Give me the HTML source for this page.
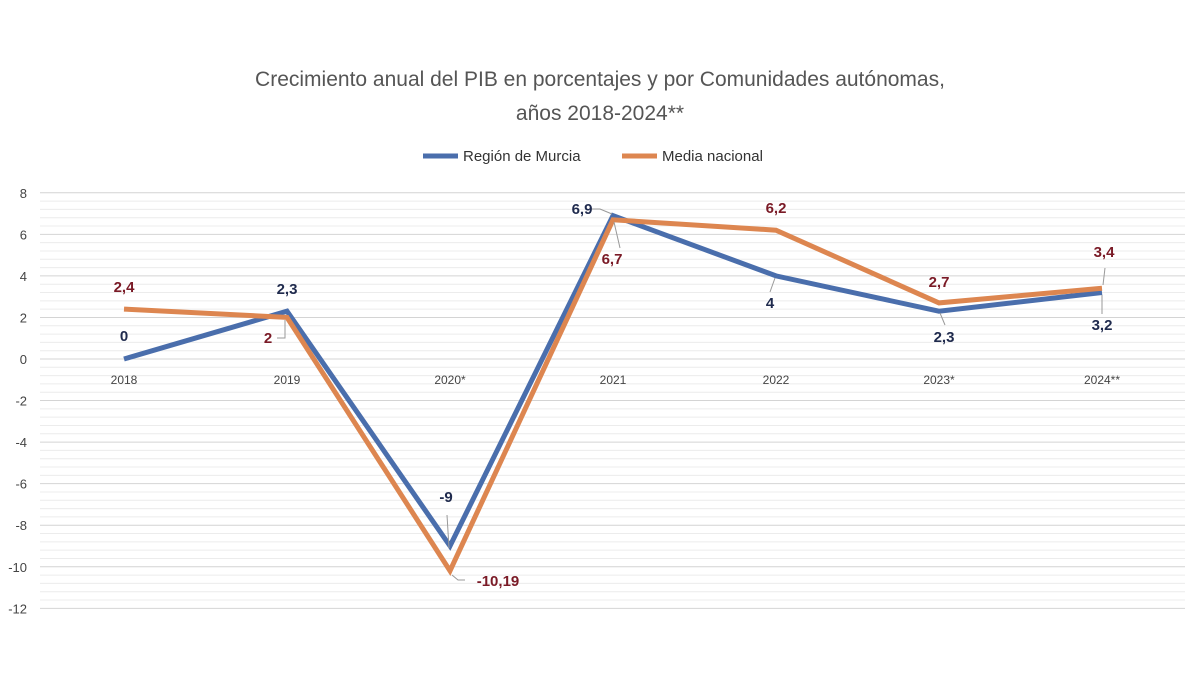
<!DOCTYPE html>
<html><head><meta charset="utf-8"><style>
body{margin:0;background:#fff;}
svg{display:block;font-family:"Liberation Sans",sans-serif;}
</style></head><body>
<svg width="1200" height="675" viewBox="0 0 1200 675">
<text x="600" y="86" text-anchor="middle" font-size="21" fill="#555">Crecimiento anual del PIB en porcentajes y por Comunidades autónomas,</text>
<text x="600" y="120" text-anchor="middle" font-size="21" fill="#555">años 2018-2024**</text>
<line x1="423" y1="156" x2="458" y2="156" stroke="#4a6eac" stroke-width="5"/>
<text x="463" y="161" font-size="15" fill="#333">Región de Murcia</text>
<line x1="622" y1="156" x2="657" y2="156" stroke="#dd8650" stroke-width="5"/>
<text x="662" y="161" font-size="15" fill="#333">Media nacional</text>
<g id="grid"></g>
<g font-size="13" fill="#444" text-anchor="end" id="yl"></g>
<g font-size="12" fill="#444" text-anchor="middle">
<text x="124" y="384">2018</text><text x="287" y="384">2019</text><text x="450" y="384">2020*</text><text x="613" y="384">2021</text><text x="776" y="384">2022</text><text x="939" y="384">2023*</text><text x="1102" y="384">2024**</text>
</g>
<polyline fill="none" stroke="#4a6eac" stroke-width="5" stroke-linejoin="miter" points="124,359 287,311.2 450,546 613,215.6 776,275.9 939,311.2 1102,292.5"/>
<polyline fill="none" stroke="#dd8650" stroke-width="5" stroke-linejoin="miter" points="124,309.1 287,317.4 450,570.8 613,219.8 776,230.2 939,302.9 1102,288.3"/>
<g stroke="#999" stroke-width="1" fill="none">
<polyline points="285,320 285,338 277,338"/>
<polyline points="449,548 447,515"/>
<polyline points="452,575 458,580 465,580"/>
<polyline points="612,214 600,209 590,209"/>
<polyline points="614,222 620,248"/>
<polyline points="775,278 770,292"/>
<polyline points="940,313 945,325"/>
<polyline points="1102,295 1102,314"/>
<polyline points="1103,285 1105,268"/>
</g>
<g font-size="15" font-weight="bold" text-anchor="middle">
<g fill="#1f2a4d">
<text x="124" y="341">0</text><text x="287" y="294">2,3</text><text x="446" y="502">-9</text><text x="582" y="214">6,9</text><text x="770" y="308">4</text><text x="944" y="342">2,3</text><text x="1102" y="330">3,2</text>
</g>
<g fill="#7a1a26">
<text x="124" y="292">2,4</text><text x="268" y="343">2</text><text x="498" y="586">-10,19</text><text x="612" y="264">6,7</text><text x="776" y="213">6,2</text><text x="939" y="287">2,7</text><text x="1104" y="257">3,4</text>
</g>
</g>
</svg>
<script>
var g=document.getElementById('grid'),yl=document.getElementById('yl'),ns='http://www.w3.org/2000/svg';
function Y(v){return 359-20.78*v;}
for(var i=0;i<=50;i++){var v=8-i*0.4;var y=Y(v);var maj=(i%5==0);
var l=document.createElementNS(ns,'line');l.setAttribute('x1',40);l.setAttribute('x2',1185);l.setAttribute('y1',y);l.setAttribute('y2',y);
l.setAttribute('stroke',maj?'#d4d4d4':'#ececec');l.setAttribute('stroke-width',1);g.appendChild(l);
if(maj){var t=document.createElementNS(ns,'text');t.setAttribute('x',27);t.setAttribute('y',y+5);t.textContent=Math.round(v);yl.appendChild(t);}}
</script>
</body></html>
